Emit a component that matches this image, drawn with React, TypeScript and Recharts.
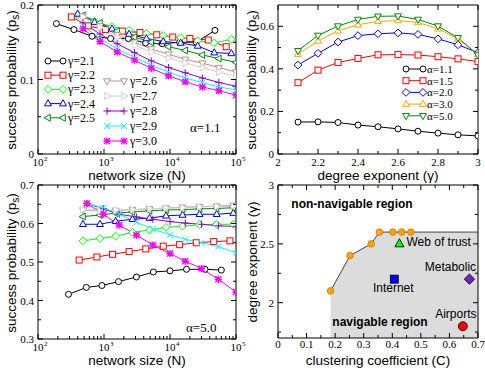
import React from 'react'
import { LineChart, Line, XAxis, YAxis, ReferenceArea, ComposedChart, Area, Scatter, Legend } from 'recharts'

const SERIF = '"Liberation Serif", "DejaVu Serif", serif'
const SANS = '"Liberation Sans", Arial, sans-serif'

// ---- panel (a): success probability vs network size, alpha = 1.1
const sizeA21 = [190, 350, 660, 1260, 2340, 4270, 7600, 14000, 25000, 48000]
const sizeA22 = [320, 580, 1050, 1900, 3500, 6300, 11000, 20000, 38000, 71000]
const sizeA23 = [400, 720, 1320, 2400, 4400, 7900, 14500, 26300, 46800, 85000]
const sizeA25 = [480, 870, 1580, 2900, 5200, 9500, 17000, 31000, 55000, 100000]
const psA21 = [0.175, 0.167, 0.158, 0.155, 0.155, 0.149, 0.148, 0.150, 0.150, 0.166]
const psA22 = [0.184, 0.172, 0.167, 0.165, 0.163, 0.160, 0.157, 0.155, 0.153, 0.144]
const psA23 = [0.187, 0.178, 0.171, 0.166, 0.162, 0.159, 0.156, 0.152, 0.149, 0.154]
const psA24 = [0.188, 0.177, 0.168, 0.161, 0.155, 0.151, 0.149, 0.145, 0.136, 0.135]
const psA25 = [0.186, 0.176, 0.165, 0.157, 0.150, 0.144, 0.139, 0.133, 0.128, 0.123]
const psA26 = [0.185, 0.172, 0.160, 0.150, 0.141, 0.134, 0.127, 0.122, 0.116, 0.110]
const psA27 = [0.184, 0.170, 0.157, 0.146, 0.137, 0.129, 0.122, 0.116, 0.110, 0.104]
const psA28 = [0.176, 0.161, 0.148, 0.136, 0.125, 0.116, 0.109, 0.102, 0.096, 0.091]
const psA29 = [0.172, 0.155, 0.141, 0.130, 0.119, 0.110, 0.102, 0.096, 0.090, 0.086]
const psA30 = [0.168, 0.151, 0.137, 0.126, 0.115, 0.105, 0.097, 0.090, 0.085, 0.079]

// ---- panel (c): same, alpha = 5.0
const sizeC21 = [290, 540, 930, 1660, 3100, 5600, 10000, 17800, 34000, 60000]
const sizeC22 = [420, 780, 1350, 2400, 4300, 7900, 14000, 25000, 46000, 81000]
const sizeC23 = [480, 870, 1500, 2700, 4900, 8700, 15500, 28000, 51000, 91000]
const sizeC28 = [550, 980, 1700, 3100, 5500, 10000, 17000, 30000, 54000, 100000]
const psC21 = [0.416, 0.434, 0.439, 0.449, 0.461, 0.474, 0.477, 0.481, 0.481, 0.479]
const psC22 = [0.505, 0.513, 0.520, 0.527, 0.534, 0.541, 0.545, 0.550, 0.553, 0.555]
const psC23 = [0.555, 0.561, 0.567, 0.577, 0.583, 0.590, 0.593, 0.597, 0.598, 0.598]
const psC24 = [0.598, 0.598, 0.606, 0.611, 0.614, 0.620, 0.622, 0.624, 0.624, 0.627]
const psC25 = [0.618, 0.622, 0.627, 0.630, 0.633, 0.635, 0.636, 0.638, 0.639, 0.641]
const psC26 = [0.635, 0.633, 0.634, 0.636, 0.638, 0.640, 0.642, 0.644, 0.645, 0.647]
const psC27 = [0.636, 0.634, 0.635, 0.636, 0.638, 0.640, 0.641, 0.643, 0.644, 0.645]
const psC28 = [0.652, 0.638, 0.624, 0.617, 0.611, 0.605, 0.601, 0.598, 0.594, 0.592]
const psC29 = [0.652, 0.641, 0.625, 0.603, 0.586, 0.570, 0.559, 0.550, 0.540, 0.524]
const psC30 = [0.652, 0.624, 0.596, 0.570, 0.544, 0.522, 0.502, 0.483, 0.455, 0.422]

// ---- panel (b): success probability vs degree exponent
const gammaVals = [2.1, 2.2, 2.3, 2.4, 2.5, 2.6, 2.7, 2.8, 2.9, 3.0]
const psB11 = [0.150, 0.151, 0.148, 0.136, 0.128, 0.118, 0.107, 0.098, 0.090, 0.085]
const psB15 = [0.335, 0.394, 0.430, 0.449, 0.466, 0.467, 0.465, 0.457, 0.447, 0.434]
const psB20 = [0.418, 0.473, 0.526, 0.556, 0.565, 0.569, 0.562, 0.541, 0.513, 0.476]
const psB30 = [0.469, 0.531, 0.579, 0.607, 0.623, 0.627, 0.618, 0.588, 0.541, 0.468]
const psB50 = [0.485, 0.557, 0.601, 0.632, 0.647, 0.648, 0.632, 0.601, 0.546, 0.465]

// ---- panel (d): navigability phase diagram
const boundaryC = [0.184, 0.252, 0.326, 0.355, 0.402, 0.433, 0.465]
const boundaryGamma = [2.1, 2.4, 2.5, 2.6, 2.6, 2.6, 2.6]
const networkNames = ['Web of trust', 'Internet', 'Metabolic', 'Airports']
const networkC = [0.425, 0.407, 0.670, 0.647]
const networkGamma = [2.5, 2.2, 2.2, 1.8]

// ticks
const logMajors = [100, 1000, 10000, 100000]
const logTicks = [100, 200, 300, 400, 500, 600, 700, 800, 900, 1000, 2000, 3000, 4000, 5000, 6000, 7000, 8000, 9000,
  10000, 20000, 30000, 40000, 50000, 60000, 70000, 80000, 90000, 100000]
const yTicksA = [0, 0.05, 0.1, 0.15, 0.2]
const yMajorsA = [0, 0.1, 0.2]
const yTicksC = [0.3, 0.35, 0.4, 0.45, 0.5, 0.55, 0.6, 0.65, 0.7]
const yMajorsC = [0.3, 0.4, 0.5, 0.6, 0.7]
const xTicksB = [2, 2.1, 2.2, 2.3, 2.4, 2.5, 2.6, 2.7, 2.8, 2.9, 3]
const xMajorsB = [2, 2.2, 2.4, 2.6, 2.8, 3]
const yTicksB = [0, 0.1, 0.2, 0.3, 0.4, 0.5, 0.6]
const yMajorsB = [0, 0.2, 0.4, 0.6]
const xTicksD = [0, 0.05, 0.1, 0.15, 0.2, 0.25, 0.3, 0.35, 0.4, 0.45, 0.5, 0.55, 0.6, 0.65, 0.7]
const xMajorsD = [0, 0.1, 0.2, 0.3, 0.4, 0.5, 0.6, 0.7]
const yTicksD = [1.75, 2, 2.25, 2.5, 2.75, 3]
const yMajorsD = [2, 2.5, 3]

const C = {
  black: '#000000', red: '#ff0000', green: '#00ff00', blue: '#0000ff', green4: '#008b00',
  brown: '#bc8f8f', grey: '#d0d0d0', violet: '#9400d3', cyan: '#00ffff', magenta: '#ff00ff',
  orange: '#ffa500', indigo: '#7221bc',
}

type Shape = 'circle' | 'square' | 'diamond' | 'up' | 'down' | 'left' | 'right' | 'plus' | 'cross' | 'star'
interface Series { name: string; color: string; shape: Shape; N: number[]; p: number[] }

const seriesA: Series[] = [
  { name: 'γ=2.1', color: C.black, shape: 'circle', N: sizeA21, p: psA21 },
  { name: 'γ=2.2', color: C.red, shape: 'square', N: sizeA22, p: psA22 },
  { name: 'γ=2.3', color: C.green, shape: 'diamond', N: sizeA23, p: psA23 },
  { name: 'γ=2.4', color: C.blue, shape: 'up', N: sizeA23, p: psA24 },
  { name: 'γ=2.5', color: C.green4, shape: 'left', N: sizeA25, p: psA25 },
  { name: 'γ=2.6', color: C.brown, shape: 'down', N: sizeA25, p: psA26 },
  { name: 'γ=2.7', color: C.grey, shape: 'right', N: sizeA25, p: psA27 },
  { name: 'γ=2.8', color: C.violet, shape: 'plus', N: sizeA25, p: psA28 },
  { name: 'γ=2.9', color: C.cyan, shape: 'cross', N: sizeA25, p: psA29 },
  { name: 'γ=3.0', color: C.magenta, shape: 'star', N: sizeA25, p: psA30 },
]
const seriesC: Series[] = [
  { ...seriesA[0], N: sizeC21, p: psC21 },
  { ...seriesA[1], N: sizeC22, p: psC22 },
  { ...seriesA[2], N: sizeC23, p: psC23 },
  { ...seriesA[3], N: sizeC23, p: psC24 },
  { ...seriesA[4], N: sizeC23, p: psC25 },
  { ...seriesA[5], N: sizeC23, p: psC26 },
  { ...seriesA[6], N: sizeC23, p: psC27 },
  { ...seriesA[7], N: sizeC28, p: psC28 },
  { ...seriesA[8], N: sizeC28, p: psC29 },
  { ...seriesA[9], N: sizeC28, p: psC30 },
]
const seriesB = [
  { name: 'α=1.1', color: C.black, shape: 'circle' as Shape, p: psB11 },
  { name: 'α=1.5', color: C.red, shape: 'square' as Shape, p: psB15 },
  { name: 'α=2.0', color: C.blue, shape: 'diamond' as Shape, p: psB20 },
  { name: 'α=3.0', color: C.orange, shape: 'up' as Shape, p: psB30 },
  { name: 'α=5.0', color: C.green4, shape: 'down' as Shape, p: psB50 },
]

// label placement for the networks in panel (d)
const netLook: Record<string, { shape: Shape; color: string; r: number; dx: number; dy: number; anchor: string }> = {
  'Web of trust': { shape: 'up', color: C.green, r: 4, dx: 7, dy: 2, anchor: 'start' },
  Internet: { shape: 'square', color: C.blue, r: 4, dx: -1, dy: 13, anchor: 'middle' },
  Metabolic: { shape: 'diamond', color: C.indigo, r: 4, dx: -19, dy: -8, anchor: 'middle' },
  Airports: { shape: 'circle', color: C.red, r: 4.5, dx: -7, dy: -8, anchor: 'middle' },
}

function Marker({ cx, cy, shape, color, r = 3, fill = '#fff', sw = 1, stroke }: any) {
  const st = stroke ?? color
  const pts = (arr: number[][]) => arr.map(([dx, dy]) => `${cx + dx * r},${cy + dy * r}`).join(' ')
  const k = r * 1.2
  switch (shape) {
    case 'circle': return <circle cx={cx} cy={cy} r={r} fill={fill} stroke={st} strokeWidth={sw} />
    case 'square': return <rect x={cx - r} y={cy - r} width={2 * r} height={2 * r} fill={fill} stroke={st} strokeWidth={sw} />
    case 'diamond': return <polygon points={pts([[0, -1.3], [1.3, 0], [0, 1.3], [-1.3, 0]])} fill={fill} stroke={st} strokeWidth={sw} />
    case 'up': return <polygon points={pts([[0, -1.3], [1.15, 0.75], [-1.15, 0.75]])} fill={fill} stroke={st} strokeWidth={sw} />
    case 'down': return <polygon points={pts([[0, 1.3], [1.15, -0.75], [-1.15, -0.75]])} fill={fill} stroke={st} strokeWidth={sw} />
    case 'left': return <polygon points={pts([[-1.3, 0], [0.75, -1.15], [0.75, 1.15]])} fill={fill} stroke={st} strokeWidth={sw} />
    case 'right': return <polygon points={pts([[1.3, 0], [-0.75, -1.15], [-0.75, 1.15]])} fill={fill} stroke={st} strokeWidth={sw} />
    case 'plus': return <path d={`M${cx - k},${cy}H${cx + k}M${cx},${cy - k}V${cy + k}`} stroke={st} strokeWidth={sw} />
    case 'cross': return <path d={`M${cx - r},${cy - r}L${cx + r},${cy + r}M${cx - r},${cy + r}L${cx + r},${cy - r}`} stroke={st} strokeWidth={sw} />
    default:
      return <path d={`M${cx - k},${cy}H${cx + k}M${cx},${cy - k}V${cy + k}M${cx - r},${cy - r}L${cx + r},${cy + r}M${cx - r},${cy + r}L${cx + r},${cy - r}`} stroke={st} strokeWidth={1.4} />
  }
}

const isMajor = (majors: number[], v: number) => majors.some((m) => Math.abs(m - v) < 1e-9)

const plainLabel = (v: number, x: number, y: number) => (
  <text x={x} y={y} textAnchor="middle" fontFamily={SERIF} fontSize={11} fill="#000">{v}</text>
)
const powLabel = (v: number, x: number, y: number) => (
  <g>
    <text x={x} y={y} textAnchor="middle" fontFamily={SERIF} fontSize={11} fill="#000">10</text>
    <text x={x + 6} y={y - 5} fontFamily={SERIF} fontSize={7} fill="#000">{Math.round(Math.log10(v))}</text>
  </g>
)

// inward ticks on bottom + mirrored on top of the frame
function makeXTick(top: number, majors: number[], label: (v: number, x: number, y: number) => React.ReactNode, dy = 12) {
  return (props: any) => {
    const { x, y, payload } = props
    const major = isMajor(majors, payload.value)
    const len = major ? 5 : 3
    return (
      <g>
        <line x1={x} x2={x} y1={y} y2={y - len} stroke="#000" />
        <line x1={x} x2={x} y1={top} y2={top + len} stroke="#000" />
        {major && label(payload.value, x, y + dy)}
      </g>
    )
  }
}

function makeYTick(right: number, majors: number[]) {
  return (props: any) => {
    const { x, y, payload } = props
    const major = isMajor(majors, payload.value)
    const len = major ? 5 : 3
    return (
      <g>
        <line x1={x} x2={x + len} y1={y} y2={y} stroke="#000" />
        <line x1={right} x2={right - len} y1={y} y2={y} stroke="#000" />
        {major && <text x={x - 4} y={y + 4} textAnchor="end" fontFamily={SERIF} fontSize={11} fill="#000">{payload.value}</text>}
      </g>
    )
  }
}

const zip = (xs: number[], ys: number[], kx: string, ky: string) => xs.map((x, i) => ({ [kx]: x, [ky]: ys[i] }))

function LegendRow({ x1, x2, tx, y, s, size = 12 }: any) {
  return (
    <g>
      <line x1={x1} x2={x2} y1={y} y2={y} stroke={s.color} />
      <Marker cx={x1} cy={y} shape={s.shape} color={s.color} />
      <Marker cx={x2} cy={y} shape={s.shape} color={s.color} />
      <text x={tx} y={y + 4} fontFamily={SERIF} fontSize={size} fill="#000">{s.name}</text>
    </g>
  )
}

function Text({ x, y, children, size = 14, font = SANS, weight = 400, rotate = false, anchor = 'center' }: any) {
  const tx = anchor === 'start' ? '0' : '-50%'
  return (
    <div style={{
      position: 'absolute', left: x, top: y, fontFamily: font, fontSize: size, fontWeight: weight, lineHeight: 1,
      whiteSpace: 'nowrap', color: '#000', transform: `translate(${tx},-50%)${rotate ? ' rotate(-90deg)' : ''}`,
    }}>{children}</div>
  )
}

const axisCommon = { tickLine: false, axisLine: false, tickSize: 0, tickMargin: 0, interval: 0 as const, allowDataOverflow: true }

function SizePanel({ series, yDomain, yTicks, yMajors, height, xHeight, legend }: any) {
  const W = 248
  const right = 12
  return (
    <LineChart width={W} height={height} margin={{ top: 5, right, bottom: 0, left: 8 }}>
      <XAxis dataKey="N" type="number" scale="log" domain={[100, 100000]} ticks={logTicks} height={xHeight}
        tick={makeXTick(5, logMajors, powLabel)} {...axisCommon} />
      <YAxis dataKey="p" type="number" domain={yDomain} ticks={yTicks} width={30} tick={makeYTick(W - right, yMajors)} {...axisCommon} />
      {series.map((s: Series) => (
        <Line key={s.name} data={zip(s.N, s.p, 'N', 'p')} dataKey="p" stroke={s.color} strokeWidth={1} isAnimationActive={false}
          dot={(d: any) => <Marker key={`${s.name}-${d.index}`} cx={d.cx} cy={d.cy} shape={s.shape} color={s.color} />} />
      ))}
      <ReferenceArea x1={100} x2={100000} y1={yDomain[0]} y2={yDomain[1]} fill="none" stroke="#000" strokeWidth={1} fillOpacity={0} />
      {legend && (
        <Legend align="center" verticalAlign="middle" wrapperStyle={{ left: 0, top: 0, width: W, height, pointerEvents: 'none' }}
          content={() => (
            <svg width={W} height={height} style={{ display: 'block' }}>
              {series.slice(0, 5).map((s: Series, i: number) => (
                <LegendRow key={s.name} s={s} x1={48} x2={63} tx={68} y={61 + i * 14.2} />
              ))}
              {series.slice(5).map((s: Series, i: number) => (
                <LegendRow key={s.name} s={s} x1={107} x2={124} tx={130} y={81 + i * 15} />
              ))}
            </svg>
          )} />
      )}
    </LineChart>
  )
}

function GammaPanel() {
  const W = 245, H = 186
  return (
    <LineChart width={W} height={H} margin={{ top: 5, right: 7, bottom: 0, left: 8 }}>
      <XAxis dataKey="gamma" type="number" domain={[2, 3]} ticks={xTicksB} height={32}
        tick={makeXTick(5, xMajorsB, plainLabel)} {...axisCommon} />
      <YAxis dataKey="p" type="number" domain={[0, 0.7]} ticks={yTicksB} width={30} tick={makeYTick(W - 7, yMajorsB)} {...axisCommon} />
      {seriesB.map((s) => (
        <Line key={s.name} data={zip(gammaVals, s.p, 'gamma', 'p')} dataKey="p" stroke={s.color} strokeWidth={1} isAnimationActive={false}
          dot={(d: any) => <Marker key={`${s.name}-${d.index}`} cx={d.cx} cy={d.cy} shape={s.shape} color={s.color} />} />
      ))}
      <ReferenceArea x1={2} x2={3} y1={0} y2={0.7} fill="none" stroke="#000" strokeWidth={1} fillOpacity={0} />
      <Legend align="center" verticalAlign="middle" wrapperStyle={{ left: 0, top: 0, width: W, height: H, pointerEvents: 'none' }}
        content={() => (
          <svg width={W} height={H} style={{ display: 'block' }}>
            {seriesB.map((s, i) => (
              <LegendRow key={s.name} s={s} x1={166} x2={183} tx={187} y={69 + i * 11.7} size={11} />
            ))}
          </svg>
        )} />
    </LineChart>
  )
}

function NetShape(props: any) {
  const { cx, cy, payload } = props
  const look = netLook[payload.name]
  return (
    <g>
      <Marker cx={cx} cy={cy} shape={look.shape} color={look.color} fill={look.color} stroke="#000" r={look.r} sw={0.8} />
      <text x={cx + look.dx} y={cy + look.dy} textAnchor={look.anchor} fontFamily={SANS} fontSize={12} fill="#000">{payload.name}</text>
    </g>
  )
}

function PhasePanel() {
  const W = 245, H = 193
  const boundary = zip(boundaryC, boundaryGamma, 'C', 'g')
  const last = boundary[boundary.length - 1]
  const edge = [last, { C: 0.7, g: last.g }]
  const nets = networkNames.map((name, i) => ({ name, C: networkC[i], g: networkGamma[i] }))
  return (
    <ComposedChart width={W} height={H} margin={{ top: 5, right: 7, bottom: 0, left: 8 }}>
      <XAxis dataKey="C" type="number" domain={[0, 0.7]} ticks={xTicksD} height={35}
        tick={makeXTick(5, xMajorsD, plainLabel, 10)} {...axisCommon} />
      <YAxis dataKey="g" type="number" domain={[1.7, 3]} ticks={yTicksD} width={30} tick={makeYTick(W - 7, yMajorsD)} {...axisCommon} />
      <Area data={[...boundary, edge[1]]} dataKey="g" type="linear" baseValue="dataMin" fill="#dcdcdc" fillOpacity={1} stroke="none" isAnimationActive={false} />
      <Line data={edge} dataKey="g" stroke="#444" strokeWidth={1} dot={false} isAnimationActive={false} />
      <Line data={boundary} dataKey="g" stroke="#444" strokeWidth={1} isAnimationActive={false}
        dot={(d: any) => <circle key={`b-${d.index}`} cx={d.cx} cy={d.cy} r={3.3} fill={C.orange} stroke="#c87800" strokeWidth={0.8} />} />
      <Scatter data={nets} dataKey="g" shape={NetShape} isAnimationActive={false} />
      <ReferenceArea x1={0} x2={0.7} y1={1.7} y2={3} fill="none" stroke="#000" strokeWidth={1} fillOpacity={0} />
    </ComposedChart>
  )
}

export default function App() {
  const ps = <>success probability (p<sub style={{ fontSize: 10 }}>s</sub>)</>
  return (
    <div style={{ position: 'absolute', left: 0, top: 0, width: 485, height: 373, background: '#fff', overflow: 'hidden' }}>
      <div style={{ position: 'absolute', left: 0, top: 0 }}>
        <SizePanel series={seriesA} yDomain={[0, 0.2]} yTicks={yTicksA} yMajors={yMajorsA} height={186} xHeight={32} legend />
      </div>
      <div style={{ position: 'absolute', left: 240, top: 0 }}>
        <GammaPanel />
      </div>
      <div style={{ position: 'absolute', left: 0, top: 180 }}>
        <SizePanel series={seriesC} yDomain={[0.3, 0.7]} yTicks={yTicksC} yMajors={yMajorsC} height={193} xHeight={34} />
      </div>
      <div style={{ position: 'absolute', left: 240, top: 180 }}>
        <PhasePanel />
      </div>

      <Text x={13} y={80} size={13.5} rotate>{ps}</Text>
      <Text x={137} y={176} size={13.5}>network size (N)</Text>
      <Text x={190} y={127} font={SERIF} size={13} anchor="start">α=1.1</Text>

      <Text x={253} y={80} size={13.5} rotate>{ps}</Text>
      <Text x={378} y={176} size={13.5}>degree exponent (γ)</Text>

      <Text x={13} y={263} size={13.5} rotate>{ps}</Text>
      <Text x={137} y={361} size={13.5}>network size (N)</Text>
      <Text x={186} y={327} font={SERIF} size={13} anchor="start">α=5.0</Text>

      <Text x={253} y={262} size={13.5} rotate>degree exponent (γ)</Text>
      <Text x={378} y={361} size={13.5}>clustering coefficient (C)</Text>
      <Text x={352} y={204} size={12} weight={700}>non-navigable region</Text>
      <Text x={380} y={322} size={12} weight={700}>navigable region</Text>
    </div>
  )
}
